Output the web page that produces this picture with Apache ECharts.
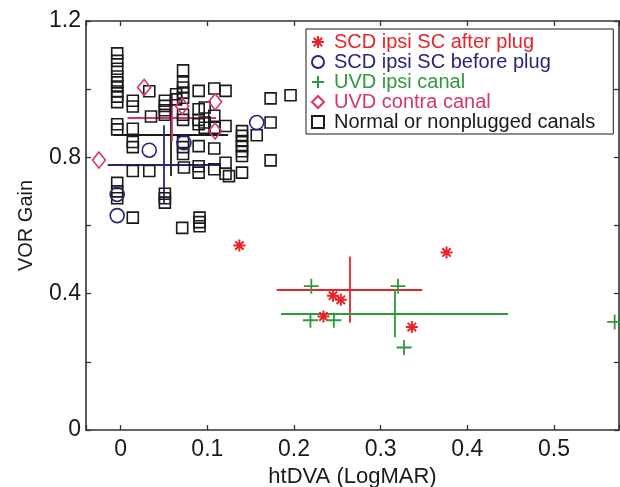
<!DOCTYPE html>
<html>
<head>
<meta charset="utf-8">
<script src="https://cdn.jsdelivr.net/npm/echarts@6/dist/echarts.min.js"></script>
<style>
  html, body { margin: 0; padding: 0; background: #fff; }
  #chart { width: 620px; height: 487px; }
</style>
</head>
<body>
<div id="chart"></div>
<script>
// series names (legend order)
const seriesNames = ['SCD ipsi SC after plug', 'SCD ipsi SC before plug', 'UVD ipsi canal', 'UVD contra canal', 'Normal or nonplugged canals'];

// points [htDVA, VOR gain]
const scdAfter = [[0.137, 0.541], [0.376, 0.521], [0.245, 0.394], [0.254, 0.382], [0.234, 0.333], [0.336, 0.302]];
const scdBefore = [[0.033, 0.821], [0.157, 0.902], [-0.004, 0.691], [-0.004, 0.629], [0.073, 0.843]];
const uvdIpsi = [[0.220, 0.422], [0.320, 0.422], [0.219, 0.322], [0.246, 0.322], [0.327, 0.242], [0.570, 0.317]];
const uvdContra = [[-0.025, 0.792], [0.027, 1.005], [0.109, 0.963], [0.109, 0.877], [0.071, 0.950]];
const normal = [
  [-0.004, 1.105], [-0.004, 1.083], [-0.004, 1.06], [-0.004, 1.037], [-0.004, 1.02], [-0.004, 1.008],
  [-0.004, 0.993], [-0.004, 0.978], [-0.004, 0.962], [-0.004, 0.897], [-0.004, 0.882], [-0.004, 0.725],
  [-0.004, 0.70], [-0.004, 0.68],
  [0.014, 0.966], [0.014, 0.949], [0.014, 0.884], [0.014, 0.845], [0.014, 0.830], [0.014, 0.760], [0.014, 0.623],
  [0.033, 0.994], [0.033, 0.760], [0.035, 0.920],
  [0.051, 0.966], [0.051, 0.951], [0.051, 0.938], [0.051, 0.925], [0.051, 0.693], [0.051, 0.680], [0.051, 0.667],
  [0.064, 0.985], [0.064, 0.970],
  [0.072, 1.055], [0.072, 1.020], [0.072, 1.005], [0.072, 0.990], [0.072, 0.975], [0.072, 0.925], [0.072, 0.910],
  [0.072, 0.845], [0.072, 0.830], [0.072, 0.810], [0.071, 0.593], [0.073, 0.770],
  [0.090, 0.995], [0.090, 0.941], [0.090, 0.910], [0.090, 0.897], [0.090, 0.833], [0.090, 0.774], [0.090, 0.755],
  [0.091, 0.623], [0.091, 0.610], [0.091, 0.598],
  [0.097, 0.946], [0.097, 0.902], [0.097, 0.887],
  [0.108, 1.002], [0.108, 0.922], [0.108, 0.887], [0.108, 0.826], [0.108, 0.765],
  [0.121, 0.995], [0.121, 0.892], [0.121, 0.784], [0.121, 0.752], [0.125, 0.745],
  [0.140, 0.877], [0.140, 0.863], [0.140, 0.848], [0.140, 0.833], [0.140, 0.818], [0.140, 0.804], [0.140, 0.755],
  [0.157, 0.865],
  [0.173, 0.973], [0.173, 0.902], [0.173, 0.791],
  [0.196, 0.982]
];

// group mean and SD crosses: [meanX, meanY, sdX, sdY]
const scdAfterCross = [0.264, 0.412, 0.084, 0.097];
const scdBeforeCross = [0.050, 0.779, 0.065, 0.115];
const uvdIpsiCross = [0.316, 0.341, 0.131, 0.069];
const uvdContraCross = [0.059, 0.917, 0.051, 0.069];
const normalCross = [0.058, 0.865, 0.066, 0.12];

const xTicks = [0, 0.1, 0.2, 0.3, 0.4, 0.5];
const yTicks = [0, 0.4, 0.8, 1.2];

const RED = '#e8232a', NAVY = '#27257c', GREEN = '#2e9a3c', PINK = '#d6356f', BLACK = '#1a1a1a';
const FONT = 'Liberation Sans, Arial, sans-serif';

const STAR = 'path://M0,-6L0,6M-6,0L6,0M-4.2,-4.2L4.2,4.2M-4.2,4.2L4.2,-4.2';
const PLUS = 'path://M0,-6L0,6M-6,0L6,0';

function crossSeries(c, color) {
  return {
    type: 'lines',
    coordinateSystem: 'cartesian2d',
    silent: true,
    z: 3,
    lineStyle: { color: color, width: 1.8, opacity: 1 },
    data: [
      { coords: [[c[0] - c[2], c[1]], [c[0] + c[2], c[1]]] },
      { coords: [[c[0], c[1] - c[3]], [c[0], c[1] + c[3]]] }
    ]
  };
}

function scatter(name, data, symbol, size, color, bw) {
  return {
    name: name,
    type: 'scatter',
    data: data,
    symbol: symbol,
    symbolSize: size,
    z: 4,
    itemStyle: { color: 'rgba(0,0,0,0)', borderColor: color, borderWidth: bw, opacity: 1 },
    emphasis: { disabled: true }
  };
}

const chart = echarts.init(document.getElementById('chart'), null, { renderer: 'canvas' });

const axisLine = { show: true, onZero: false, lineStyle: { color: '#333', width: 1.6 } };
const tick = { show: true, inside: true, length: 5, lineStyle: { color: '#333', width: 1.3 } };

const option = {
  animation: false,
  backgroundColor: '#fff',
  textStyle: { fontFamily: FONT },
  grid: { left: 86, top: 21, right: 1, bottom: 57, containLabel: false, outerBoundsMode: 'none' },
  legend: {
    orient: 'vertical',
    left: 306,
    top: 29,
    padding: [3, 18, 2, 5],
    itemGap: 0,
    itemWidth: 12,
    itemHeight: 12,
    borderColor: BLACK,
    borderWidth: 1,
    backgroundColor: '#fff',
    z: 10,
    selectedMode: false,
    textStyle: { fontFamily: FONT, fontSize: 20, lineHeight: 19, padding: [0, 0, 0, 5] },
    data: [
      { name: seriesNames[0], textStyle: { color: RED } },
      { name: seriesNames[1], textStyle: { color: NAVY } },
      { name: seriesNames[2], textStyle: { color: GREEN } },
      { name: seriesNames[3], textStyle: { color: PINK } },
      { name: seriesNames[4], textStyle: { color: BLACK } }
    ]
  },
  xAxis: [
    {
      type: 'value',
      min: -0.04,
      max: 0.575,
      position: 'bottom',
      axisLine: axisLine,
      axisTick: tick,
      splitLine: { show: false },
      axisLabel: {
        fontSize: 23, color: BLACK, margin: 8, fontFamily: FONT,
        formatter: v => {
          const t = xTicks.find(k => Math.abs(k - v) < 1e-6);
          return t === undefined ? '' : String(t);
        }
      },
      name: 'htDVA (LogMAR)',
      nameLocation: 'middle',
      nameGap: 31,
      nameTextStyle: { fontSize: 22, color: BLACK, fontFamily: FONT }
    },
    {
      type: 'value',
      min: -0.04,
      max: 0.575,
      position: 'top',
      axisLine: axisLine,
      axisTick: tick,
      splitLine: { show: false },
      axisLabel: { show: false }
    }
  ],
  yAxis: [
    {
      type: 'value',
      min: 0,
      max: 1.2,
      interval: 0.2,
      position: 'left',
      axisLine: axisLine,
      axisTick: tick,
      splitLine: { show: false },
      axisLabel: {
        fontSize: 23, color: BLACK, margin: 5, fontFamily: FONT,
        formatter: v => {
          const t = yTicks.find(k => Math.abs(k - v) < 1e-6);
          return t === undefined ? '' : String(t);
        }
      },
      name: 'VOR Gain',
      nameLocation: 'middle',
      nameGap: 50,
      nameTextStyle: { fontSize: 20, color: BLACK, fontFamily: FONT }
    },
    {
      type: 'value',
      min: 0,
      max: 1.2,
      interval: 0.2,
      position: 'right',
      axisLine: axisLine,
      axisTick: tick,
      splitLine: { show: false },
      axisLabel: { show: false }
    }
  ],
  series: [
    crossSeries(normalCross, BLACK),
    crossSeries(scdBeforeCross, NAVY),
    crossSeries(uvdContraCross, PINK),
    crossSeries(scdAfterCross, RED),
    crossSeries(uvdIpsiCross, GREEN),
    scatter(seriesNames[4], normal, 'rect', 11, BLACK, 1.6),
    scatter(seriesNames[1], scdBefore, 'circle', 14, NAVY, 1.6),
    scatter(seriesNames[3], uvdContra, 'diamond', [13, 16], PINK, 1.6),
    scatter(seriesNames[0], scdAfter, STAR, 12, RED, 2),
    scatter(seriesNames[2], uvdIpsi, PLUS, 15, GREEN, 1.8)
  ]
};

chart.setOption(option);
</script>
</body>
</html>
